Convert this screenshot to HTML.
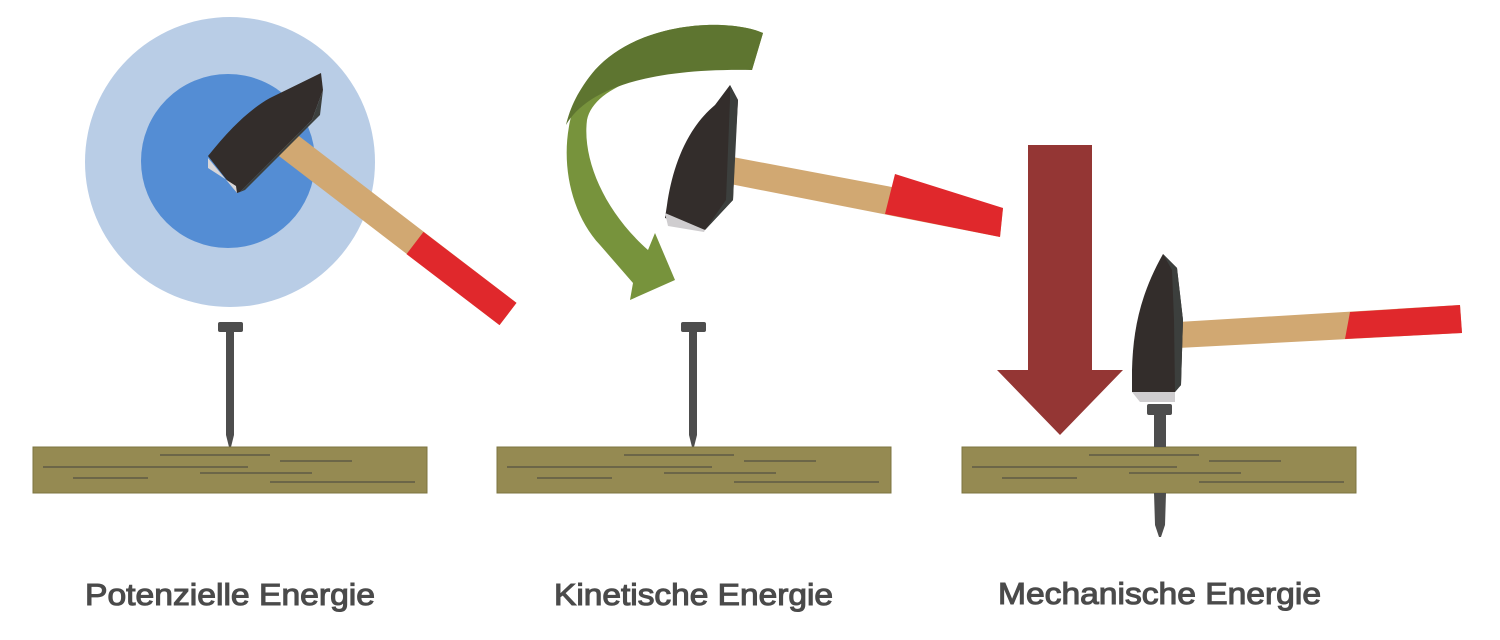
<!DOCTYPE html>
<html><head><meta charset="utf-8"><style>
html,body{margin:0;padding:0;background:#fff;}
svg{display:block}
text{font-family:"Liberation Sans",sans-serif;fill:#4a4a4a;font-size:31px;stroke:#4a4a4a;stroke-width:1.1}
</style></head><body>
<svg width="1500" height="640" viewBox="0 0 1500 640" xmlns="http://www.w3.org/2000/svg">
<defs>
<g id="board">
<rect x="0" y="0" width="394" height="46" fill="#958a52" stroke="#7d7440" stroke-width="1"/>
<g stroke="#5e5a45" stroke-width="1.5">
<line x1="127" y1="8" x2="237" y2="8"/>
<line x1="247" y1="14" x2="319" y2="14"/>
<line x1="10" y1="20" x2="215" y2="20"/>
<line x1="167" y1="26" x2="279" y2="26"/>
<line x1="40" y1="31" x2="115" y2="31"/>
<line x1="237" y1="35" x2="382" y2="35"/>
</g>
</g>
</defs>

<!-- Panel 1 -->
<circle cx="230" cy="162" r="145" fill="#b9cde6"/>
<circle cx="228" cy="161" r="87" fill="#548dd4"/>
<polygon points="293.5,131.9 516.5,302.9 499.5,325.1 276.5,154.1" fill="#d1a872"/>
<polygon points="423.5,231.9 516.5,302.9 499.5,325.1 406.5,254.1" fill="#e0282c"/>
<path d="M208,156 C225,135 245,112 270,98 L321,73 L323,90 L312,120 L240,192 L237,193 Z" fill="#332d2b"/>
<polygon points="312,120 323,90 320,115 245,190 240,192" fill="#3c3f3d"/>
<polygon points="208,158 237,193 236,186 208,168" fill="#d8d6d8"/>
<rect x="218" y="322" width="25" height="10" rx="2" fill="#4d4d4d"/>
<polygon points="226,331 234,331 234,435 231,447 229,447 226,435" fill="#4d4d4d"/>
<use href="#board" x="33" y="447"/>

<!-- Panel 2 -->
<path d="M763,33 C730,18 640,20 595,70 C555,115 558,200 600,245 L633,283 L630,300 L675,280 L655,233 L648,250 C605,212 582,160 587,120 C595,80 680,60 752,70 Z" fill="#77933c"/>
<path d="M763,33 C730,18 640,20 595,70 C578,90 570,108 566,125 C585,92 640,68 752,70 Z" fill="#5e7530"/>
<polygon points="722,155 1003,208 1000,237 720,182" fill="#d1a872"/>
<polygon points="895,174 1003,208 1000,237 885,214" fill="#e0282c"/>
<path d="M730,85 L738,100 L735,150 L733,200 L705,230 L665,218 L667,205 C672,170 685,130 715,105 Z" fill="#332d2b"/>
<polygon points="730,85 738,100 733,200 705,230 726,200 730,100" fill="#3c3f3d"/>
<polygon points="665,213 705,230 704,232 668,226" fill="#cfcdcf"/>
<rect x="681" y="322" width="25" height="10" rx="2" fill="#4d4d4d"/>
<polygon points="689,331 697,331 697,435 694,447 692,447 689,435" fill="#4d4d4d"/>
<use href="#board" x="497" y="447"/>

<!-- Panel 3 -->
<polygon points="1028,145 1092,145 1092,370 1123,370 1060,435 997,370 1028,370" fill="#943634"/>
<use href="#board" x="962" y="447"/>
<rect x="1147" y="404" width="25" height="11" rx="2" fill="#4d4d4d"/>
<polygon points="1154,414 1166,414 1166,447 1154,447" fill="#4d4d4d"/>
<polygon points="1154,493 1166,493 1165,525 1161,537 1159,537 1155,525" fill="#4d4d4d"/>
<polygon points="1178,322 1460,305 1462,333 1178,348" fill="#d1a872"/>
<polygon points="1350,312 1460,305 1462,333 1345,339" fill="#e0282c"/>
<path d="M1163,254 L1177,268 L1183,320 L1181,385 L1175,392 L1132,392 L1132,370 C1133,330 1140,295 1163,254 Z" fill="#332d2b"/>
<polygon points="1163,254 1177,268 1183,320 1181,385 1175,392 1174,320 1172,270" fill="#3c3f3d"/>
<polygon points="1132,392 1175,392 1175,402 1140,402" fill="#cfcdcf"/>

<!-- Labels -->
<text x="85" y="605" textLength="290" lengthAdjust="spacingAndGlyphs">Potenzielle Energie</text>
<text x="554" y="605" textLength="279" lengthAdjust="spacingAndGlyphs">Kinetische Energie</text>
<text x="998" y="604" textLength="323" lengthAdjust="spacingAndGlyphs">Mechanische Energie</text>
</svg>
</body></html>
